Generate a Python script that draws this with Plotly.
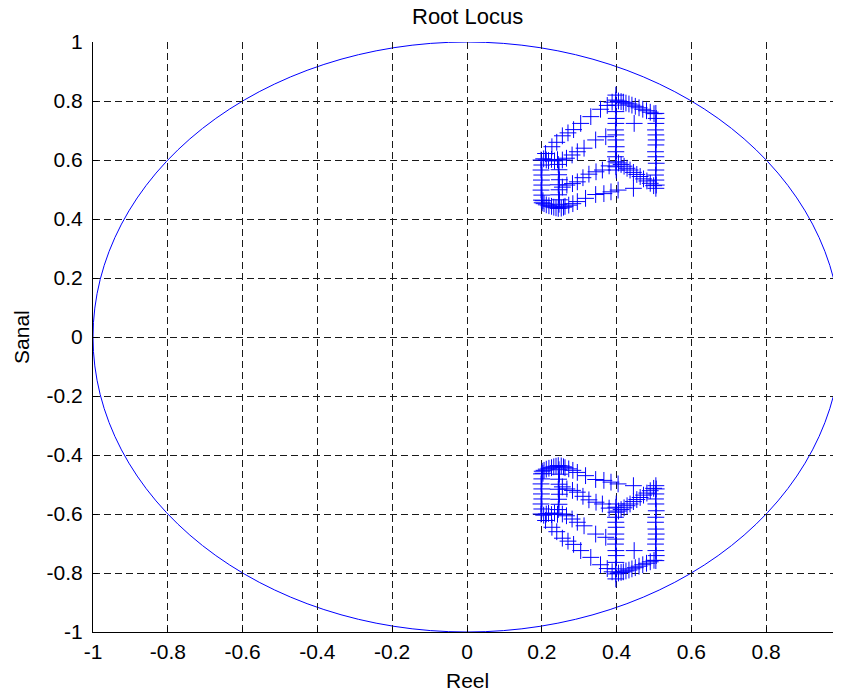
import plotly.graph_objects as go

# ---------------- data ----------------
tick_vals = [-1, -0.8, -0.6, -0.4, -0.2, 0, 0.2, 0.4, 0.6, 0.8, 1]
tick_text = ["-1", "-0.8", "-0.6", "-0.4", "-0.2", "0", "0.2", "0.4", "0.6", "0.8", "1"]
unit_circle_radius = 1.0

# upper half-plane poles, grouped by visible branch
c2_re = [0.198, 0.200, 0.198, 0.200, 0.199, 0.200, 0.198, 0.200, 0.199, 0.201, 0.203]
c2_im = [0.600, 0.583, 0.566, 0.549, 0.532, 0.515, 0.498, 0.481, 0.464, 0.455, 0.462]

tl_re = [0.205, 0.212, 0.218, 0.226, 0.234, 0.242]
tl_im = [0.604, 0.600, 0.598, 0.602, 0.597, 0.601]

c25_re = [0.244, 0.246, 0.245, 0.247, 0.244, 0.246, 0.245, 0.247, 0.246, 0.244]
c25_im = [0.585, 0.567, 0.550, 0.533, 0.516, 0.499, 0.482, 0.465, 0.450, 0.436]

bc_re = [0.206, 0.212, 0.219, 0.226, 0.232, 0.238, 0.252, 0.258]
bc_im = [0.452, 0.448, 0.445, 0.443, 0.440, 0.438, 0.437, 0.440]

t_re = [0.210, 0.227, 0.240, 0.255, 0.270, 0.285, 0.304, 0.331, 0.357, 0.375, 0.388]
t_im = [0.622, 0.645, 0.660, 0.682, 0.692, 0.703, 0.724, 0.747, 0.772, 0.785, 0.796]

m1_re = [0.255, 0.266, 0.281, 0.295, 0.313, 0.344, 0.371]
m1_im = [0.600, 0.606, 0.617, 0.628, 0.640, 0.668, 0.679]

m2_re = [0.255, 0.267, 0.282, 0.295, 0.310, 0.326, 0.345, 0.362, 0.380]
m2_im = [0.508, 0.515, 0.520, 0.526, 0.540, 0.552, 0.560, 0.566, 0.580]

b_re = [0.262, 0.272, 0.283, 0.295, 0.317, 0.344, 0.366, 0.385, 0.445]
b_im = [0.443, 0.447, 0.452, 0.459, 0.470, 0.483, 0.486, 0.492, 0.504]

lone_re = [0.447]
lone_im = [0.724]

c4_re = [0.398, 0.398, 0.397, 0.398, 0.399, 0.398, 0.397, 0.398, 0.398, 0.399, 0.398, 0.397, 0.398, 0.398, 0.399, 0.404]
c4_im = [0.820, 0.803, 0.786, 0.764, 0.741, 0.724, 0.702, 0.685, 0.668, 0.645, 0.628, 0.611, 0.594, 0.577, 0.566, 0.498]

c5_re = [0.505, 0.506, 0.505, 0.504, 0.505, 0.506, 0.505, 0.504, 0.505, 0.506, 0.505, 0.504, 0.505, 0.506, 0.505]
c5_im = [0.758, 0.741, 0.724, 0.702, 0.685, 0.668, 0.651, 0.628, 0.611, 0.589, 0.566, 0.549, 0.532, 0.515, 0.504]

rt_re = [0.405, 0.412, 0.418, 0.425, 0.433, 0.441, 0.450, 0.460, 0.470, 0.480, 0.490, 0.500]
rt_im = [0.800, 0.798, 0.796, 0.793, 0.790, 0.786, 0.782, 0.777, 0.772, 0.767, 0.762, 0.757]

rm_re = [0.405, 0.412, 0.420, 0.428, 0.436, 0.445, 0.454, 0.463, 0.472, 0.481, 0.490, 0.499]
rm_im = [0.590, 0.585, 0.579, 0.572, 0.566, 0.558, 0.551, 0.544, 0.536, 0.529, 0.521, 0.513]

# lower half-plane poles (complex conjugates)
c2_im_low = [-0.600, -0.583, -0.566, -0.549, -0.532, -0.515, -0.498, -0.481, -0.464, -0.455, -0.462]
tl_im_low = [-0.604, -0.600, -0.598, -0.602, -0.597, -0.601]
c25_im_low = [-0.585, -0.567, -0.550, -0.533, -0.516, -0.499, -0.482, -0.465, -0.450, -0.436]
bc_im_low = [-0.452, -0.448, -0.445, -0.443, -0.440, -0.438, -0.437, -0.440]
t_im_low = [-0.622, -0.645, -0.660, -0.682, -0.692, -0.703, -0.724, -0.747, -0.772, -0.785, -0.796]
m1_im_low = [-0.600, -0.606, -0.617, -0.628, -0.640, -0.668, -0.679]
m2_im_low = [-0.508, -0.515, -0.520, -0.526, -0.540, -0.552, -0.560, -0.566, -0.580]
b_im_low = [-0.443, -0.447, -0.452, -0.459, -0.470, -0.483, -0.486, -0.492, -0.504]
lone_im_low = [-0.724]
c4_im_low = [-0.820, -0.803, -0.786, -0.764, -0.741, -0.724, -0.702, -0.685, -0.668, -0.645, -0.628, -0.611, -0.594, -0.577, -0.566, -0.498]
c5_im_low = [-0.758, -0.741, -0.724, -0.702, -0.685, -0.668, -0.651, -0.628, -0.611, -0.589, -0.566, -0.549, -0.532, -0.515, -0.504]
rt_im_low = [-0.800, -0.798, -0.796, -0.793, -0.790, -0.786, -0.782, -0.777, -0.772, -0.767, -0.762, -0.757]
rm_im_low = [-0.590, -0.585, -0.579, -0.572, -0.566, -0.558, -0.551, -0.544, -0.536, -0.529, -0.521, -0.513]

re_groups = [c2_re, tl_re, c25_re, bc_re, t_re, m1_re, m2_re, b_re, lone_re, c4_re, c5_re, rt_re, rm_re]
im_up_groups = [c2_im, tl_im, c25_im, bc_im, t_im, m1_im, m2_im, b_im, lone_im, c4_im, c5_im, rt_im, rm_im]
im_low_groups = [c2_im_low, tl_im_low, c25_im_low, bc_im_low, t_im_low, m1_im_low, m2_im_low,
                 b_im_low, lone_im_low, c4_im_low, c5_im_low, rt_im_low, rm_im_low]

xs, ys = [], []
for r, iu, il in zip(re_groups, im_up_groups, im_low_groups):
    xs += r + r
    ys += iu + il

FONT = "Liberation Sans, Arial, sans-serif"
BLUE = "#0000FF"

fig = go.Figure()
fig.add_trace(go.Scatter(
    x=xs, y=ys, mode="markers",
    marker=dict(symbol="cross-thin", size=12, color=BLUE, line=dict(color=BLUE, width=1)),
    showlegend=False, hoverinfo="skip",
))

fig.add_shape(type="circle", xref="x", yref="y",
              x0=-unit_circle_radius, y0=-unit_circle_radius,
              x1=unit_circle_radius, y1=unit_circle_radius,
              line=dict(color=BLUE, width=1), layer="below")

axis_common = dict(
    range=[-1, 1], tickvals=tick_vals, ticktext=tick_text, automargin=False,
    showgrid=True, gridcolor="#1a1a1a", gridwidth=1, griddash="7px,4px",
    zeroline=False, showline=True, linecolor="black", linewidth=1,
    ticks="inside", ticklen=5, tickcolor="black",
    tickfont=dict(family=FONT, size=21, color="black"),
)

fig.update_xaxes(**axis_common, ticklabelstandoff=1)
fig.update_yaxes(**axis_common, ticklabelstandoff=5)

# the page body adds an 8px offset, so margins are set 8px smaller on left/top
fig.update_layout(
    width=841, height=693,
    margin=dict(l=85, r=8, t=34, b=69),
    paper_bgcolor="white", plot_bgcolor="white",
    font=dict(family=FONT, size=21, color="black"),
    annotations=[
        dict(text="Root Locus", xref="paper", yref="paper", x=0.5, y=1.0424,
             showarrow=False, xanchor="center", yanchor="middle", font=dict(size=22)),
        dict(text="Reel", xref="paper", yref="paper", x=0.5, y=-0.0814,
             showarrow=False, xanchor="center", yanchor="middle", font=dict(size=21)),
        dict(text="Sanal", xref="paper", yref="paper", x=-0.0963, y=0.5, textangle=-90,
             showarrow=False, xanchor="center", yanchor="middle", font=dict(size=21)),
    ],
)

fig.write_html("out.html")
